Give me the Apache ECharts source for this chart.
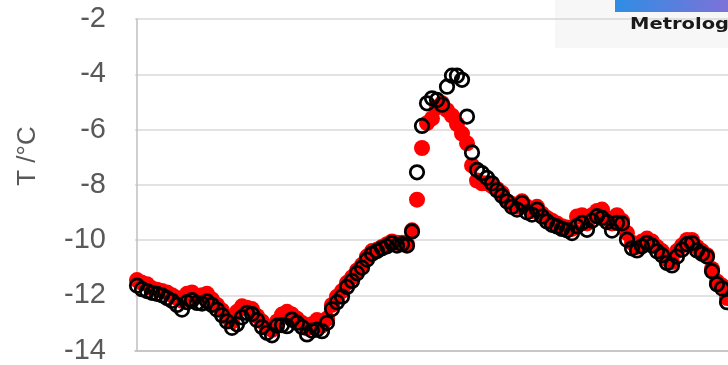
<!DOCTYPE html>
<html>
<head>
<meta charset="utf-8">
<script src="https://cdn.jsdelivr.net/npm/echarts@6/dist/echarts.min.js"></script>
<style>
  html, body { margin: 0; padding: 0; background: #fff; }
  #chart { width: 728px; height: 365px; }
</style>
</head>
<body>
<div id="chart"></div>
<script>
// temperature readings, one sample every step
const redTemp = [
  -11.45, -11.55, -11.6, -11.75, -11.8, -11.85, -11.9, -12.0, -12.1, -12.2,
  -11.95, -11.9, -12.05, -12.0, -11.95, -12.15, -12.35, -12.55, -12.8, -12.95,
  -12.6, -12.4, -12.45, -12.5, -12.75, -12.95, -13.15, -13.25, -12.95, -12.7,
  -12.6, -12.7, -12.85, -13.0, -13.2, -13.05, -12.9, -13.1, -12.85, -12.35,
  -12.05, -11.85, -11.55, -11.35, -11.1, -10.9, -10.6, -10.4, -10.35, -10.25,
  -10.15, -10.05, -10.1, -10.1, -10.15, -9.65, -8.54, -6.67, -5.77, -5.6,
  -5.2, -5.05, -5.3, -5.5, -5.8, -6.15, -6.5, -7.3, -7.85, -7.95,
  -7.95, -8.05, -8.15, -8.3, -8.6, -8.7, -8.8, -8.6, -8.8, -8.95,
  -8.8, -9.05, -9.2, -9.3, -9.4, -9.5, -9.55, -9.6, -9.15, -9.1,
  -9.4, -9.1, -8.95, -8.9, -9.2, -9.4, -9.1, -9.3, -9.75, -10.1,
  -10.25, -10.05, -9.95, -10.05, -10.25, -10.4, -10.7, -10.8, -10.4, -10.2,
  -10.0, -10.0, -10.25, -10.4, -10.55, -11.05, -11.5, -11.65, -12.1
];
const blackTemp = [
  -11.65, -11.78, -11.85, -11.91, -11.95, -12.0, -12.1, -12.2, -12.35, -12.52,
  -12.25, -12.18, -12.28, -12.3, -12.22, -12.35, -12.52, -12.72, -12.95, -13.18,
  -13.05, -12.8, -12.64, -12.68, -12.9, -13.15, -13.36, -13.45, -13.1, -13.08,
  -13.12, -12.88, -13.0, -13.15, -13.42, -13.28, -13.24, -13.3, -13.0, -12.5,
  -12.25, -12.05, -11.7, -11.48, -11.2, -11.0, -10.71, -10.5, -10.4, -10.3,
  -10.23, -10.11, -10.2, -10.15, -10.2, -9.69, -7.55, -5.87, -5.05, -4.87,
  -4.93, -5.1, -4.45, -4.05, -4.05, -4.2, -5.53, -6.83, -7.46, -7.58,
  -7.75, -7.95, -8.2, -8.4, -8.6, -8.8, -8.9, -8.66, -9.0, -9.08,
  -8.9, -9.15, -9.33, -9.45, -9.51, -9.6, -9.65, -9.75, -9.5, -9.38,
  -9.63, -9.3, -9.14, -9.2, -9.35, -9.66, -9.38, -9.4, -9.99, -10.3,
  -10.38, -10.23, -10.1, -10.2, -10.41, -10.55, -10.83, -10.92, -10.6, -10.35,
  -10.15, -10.11, -10.38, -10.5, -10.6, -11.13, -11.6, -11.75, -12.25
];
const yTicks = [-14, -12, -10, -8, -6, -4, -2];
const yTitle = "T /°C";

const chart = echarts.init(document.getElementById("chart"));
const toPairs = (arr) => arr.map((v, i) => [i, v]);

chart.setOption({
  animation: false,
  backgroundColor: "#fff",
  grid: { left: 135, right: 0, top: 19, bottom: 14 },
  xAxis: {
    type: "value",
    min: -0.4,
    max: 118.2,
    axisLine: { show: true, lineStyle: { color: "#bfbfbf", width: 1.5 } },
    axisTick: { show: false },
    axisLabel: { show: false },
    splitLine: { show: false },
  },
  yAxis: {
    type: "value",
    min: yTicks[0],
    max: yTicks[yTicks.length - 1],
    interval: 2,
    axisLine: { show: true, lineStyle: { color: "#bfbfbf", width: 1.5 } },
    axisTick: { show: false },
    axisLabel: {
      color: "#595959",
      fontSize: 29,
      fontFamily: "Liberation Sans, Arial, sans-serif",
      margin: 29,
    },
    splitLine: { lineStyle: { color: "#d9d9d9", width: 1.5 } },
  },
  graphic: [
    {
      type: "rect",
      z: -10,
      shape: { x: 555, y: 0, width: 173, height: 48 },
      style: { fill: "#f7f7f7" },
    },
    {
      type: "rect",
      z: 10,
      shape: { x: 615, y: 0, width: 113, height: 12 },
      style: {
        fill: new echarts.graphic.LinearGradient(0, 0, 1, 0, [
          { offset: 0, color: "#2f8de4" },
          { offset: 1, color: "#7d72d8" },
        ]),
      },
    },
    {
      type: "text",
      z: 10,
      x: 630,
      y: 33,
      scaleX: 1.3,
      style: {
        text: "Metrology",
        fill: "#1a1a1a",
        font: "bold 15px 'DejaVu Sans', sans-serif",
        textVerticalAlign: "bottom",
      },
    },
    {
      type: "text",
      x: 28,
      y: 156,
      rotation: Math.PI / 2,
      style: {
        text: yTitle,
        fill: "#595959",
        font: "26px 'Liberation Sans', Arial, sans-serif",
        textAlign: "center",
        textVerticalAlign: "middle",
      },
    },
  ],
  series: [
    {
      name: "red",
      type: "scatter",
      data: toPairs(redTemp),
      symbol: "circle",
      symbolSize: 16,
      itemStyle: { color: "#ff0000", opacity: 1 },
      z: 2,
    },
    {
      name: "black",
      type: "scatter",
      data: toPairs(blackTemp),
      symbol: "circle",
      symbolSize: 13.5,
      itemStyle: {
        color: "rgba(0,0,0,0)",
        borderColor: "#000",
        borderWidth: 2.75,
        opacity: 1,
      },
      z: 3,
    },
  ],
});
</script>
</body>
</html>
